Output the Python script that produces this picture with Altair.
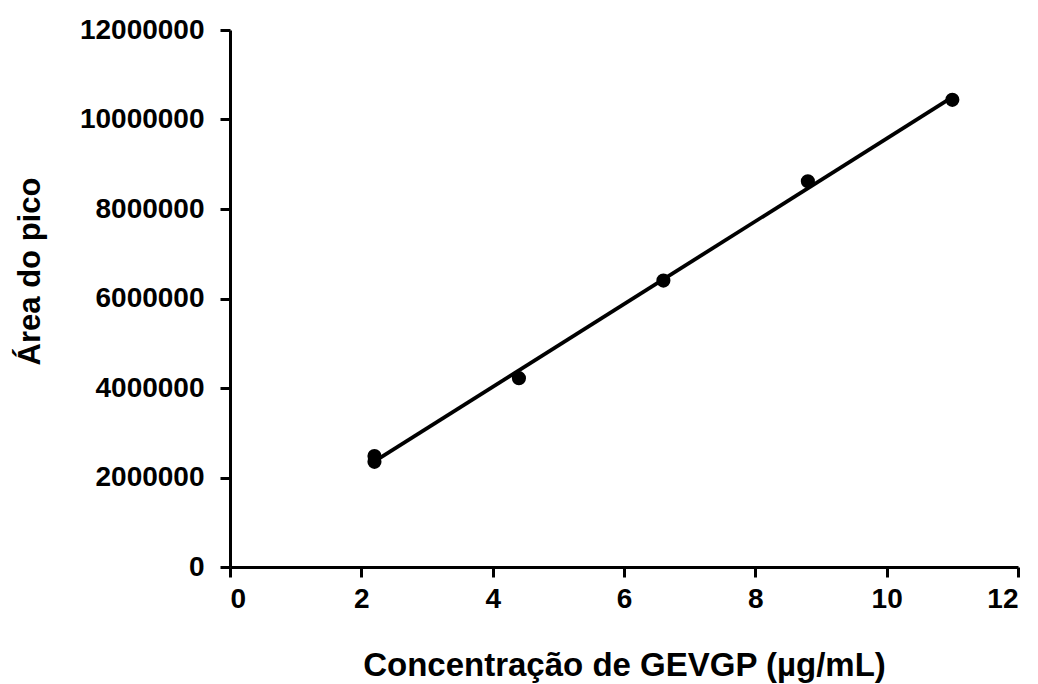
import altair as alt
import pandas as pd

conc = [2.2, 2.2, 4.4, 6.6, 8.8, 11.0]
area = [2480000, 2350000, 4220000, 6400000, 8620000, 10440000]
x_ticks = [0, 2, 4, 6, 8, 10, 12]
y_ticks = [0, 2000000, 4000000, 6000000, 8000000, 10000000, 12000000]

df = pd.DataFrame({"conc": conc, "area": area})

FONT = "Liberation Sans"

x_enc = alt.X("conc:Q", scale=alt.Scale(domain=[0, 12], nice=False),
              axis=alt.Axis(values=x_ticks, format="d",
                            title="Concentração de GEVGP (µg/mL)",
                            titlePadding=36, titleFontSize=33))
y_enc = alt.Y("area:Q", scale=alt.Scale(domain=[0, 12000000], nice=False),
              axis=alt.Axis(values=y_ticks, format="d", title="Área do pico",
                            titleX=-184, titleY=241))

points = alt.Chart(df).mark_circle(size=200, color="black", opacity=1).encode(x=x_enc, y=y_enc)
line = alt.Chart(df).transform_regression("conc", "area").mark_line(
    color="black", strokeWidth=3.8).encode(x="conc:Q", y="area:Q")

chart = alt.layer(line, points).properties(
    width=788, height=537,
    autosize=alt.AutoSizeParams(type="none"),
    padding={"left": 230, "top": 30, "right": 20, "bottom": 117},
).configure_view(stroke=None).configure_axis(
    grid=False,
    domainColor="black", domainWidth=3,
    tickColor="black", tickWidth=3, tickSize=10,
    labelFont=FONT, labelFontWeight="bold", labelFontSize=28, labelColor="black",
    labelPadding=8,
    titleFont=FONT, titleFontWeight="bold", titleFontSize=31, titleColor="black",
).configure_axisY(labelPadding=16)

chart.save("out.html", embed_options={"renderer": "svg", "actions": False})
